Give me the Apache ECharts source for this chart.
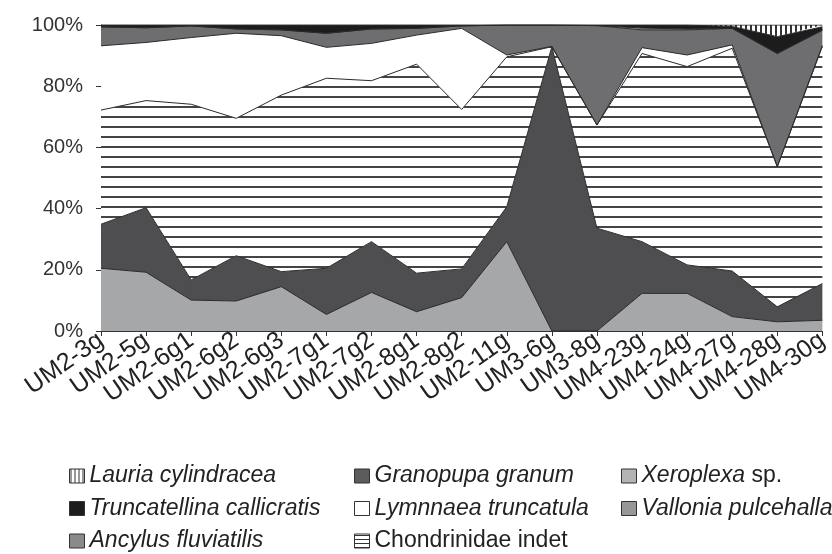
<!DOCTYPE html>
<html>
<head>
<meta charset="utf-8">
<script src="https://cdn.jsdelivr.net/npm/echarts@6/dist/echarts.min.js"></script>
<style>
  body { margin: 0; background: #fff; }
  #chart { width: 832px; height: 554px; }
</style>
</head>
<body>
<div id="chart"></div>
<script>
const categories = ['UM2-3g', 'UM2-5g', 'UM2-6g1', 'UM2-6g2', 'UM2-6g3', 'UM2-7g1', 'UM2-7g2', 'UM2-8g1',
  'UM2-8g2', 'UM2-11g', 'UM3-6g', 'UM3-8g', 'UM4-23g', 'UM4-24g', 'UM4-27g', 'UM4-28g', 'UM4-30g'];

// percentages, stacked bottom to top
const xeroplexa = [20.5, 19.2, 10.1, 9.8, 14.5, 5.4, 12.6, 6.3, 10.9, 29.2, 0, 0, 12.3, 12.3, 4.7, 3.0, 3.5];
const granopupa = [14.4, 21.1, 6.6, 14.8, 4.9, 15.1, 16.6, 12.6, 9.4, 11.4, 92.9, 33.6, 16.9, 9.3, 14.9, 4.9, 12.0];
const chondrinidae = [37.3, 35.0, 57.4, 44.9, 57.7, 62.1, 52.6, 68.3, 52.1, 49.0, 0, 33.7, 61.5, 64.8, 72.8, 45.8, 77.5];
const lymnaea = [21.0, 19.0, 21.8, 27.8, 19.4, 10.1, 12.2, 9.5, 26.5, 0.6, 0.1, 0, 1.9, 3.8, 1.1, 0, 0.3];
const ancylus = [6.2, 4.8, 3.8, 1.4, 1.9, 4.6, 4.7, 2.2, 0.8, 9.8, 7.0, 32.5, 5.8, 8.2, 5.4, 37.0, 5.0];
const vallonia = [0, 0, 0, 0, 0, 0, 0, 0, 0, 0, 0, 0, 0.6, 0.3, 0, 0, 0];
const truncatellina = [0.6, 0.9, 0.3, 1.3, 1.6, 2.7, 1.3, 1.1, 0.3, 0, 0, 0.2, 1.0, 1.3, 0.6, 5.5, 1.1];
const lauria = [0, 0, 0, 0, 0, 0, 0, 0, 0, 0, 0, 0, 0, 0, 0.5, 3.8, 0.6];

const yTicks = [0, 20, 40, 60, 80, 100];

function makePattern(w, h, draw) {
  const c = document.createElement('canvas');
  c.width = w;
  c.height = h;
  const ctx = c.getContext('2d');
  ctx.fillStyle = '#fff';
  ctx.fillRect(0, 0, w, h);
  draw(ctx);
  return { image: c, repeat: 'repeat' };
}

// chart fills
const hLines = makePattern(10, 10, ctx => { ctx.fillStyle = '#444'; ctx.fillRect(0, 6, 10, 2); });
const vLines = makePattern(5, 5, ctx => { ctx.fillStyle = '#333'; ctx.fillRect(0, 0, 2, 5); });
// smaller ones for the legend boxes
const hLinesSmall = makePattern(4, 4, ctx => { ctx.fillStyle = '#333'; ctx.fillRect(0, 1, 4, 1); });
const vLinesSmall = makePattern(4, 4, ctx => { ctx.fillStyle = '#333'; ctx.fillRect(1, 0, 1, 4); });

const layers = [
  { name: 'Xeroplexa sp.', data: xeroplexa, color: '#a6a7a9', legend: '#b4b4b4' },
  { name: 'Granopupa granum', data: granopupa, color: '#4e4e50', legend: '#5c5c5c' },
  { name: 'Chondrinidae indet', data: chondrinidae, color: hLines, legend: hLinesSmall },
  { name: 'Lymnnaea truncatula', data: lymnaea, color: '#ffffff', legend: '#ffffff' },
  { name: 'Ancylus fluviatilis', data: ancylus, color: '#6e6e70', legend: '#8a8a8a' },
  { name: 'Vallonia pulcehalla', data: vallonia, color: '#9a9a9a', legend: '#979797' },
  { name: 'Truncatellina callicratis', data: truncatellina, color: '#1c1c1c', legend: '#1c1c1c' },
  { name: 'Lauria cylindracea', data: lauria, color: vLines, legend: vLinesSmall }
];

const italic = name => {
  if (name === 'Chondrinidae indet') return '{n|' + name + '}';
  if (name === 'Xeroplexa sp.') return '{i|Xeroplexa} {n|sp.}';
  return '{i|' + name + '}';
};

function legendColumn(names, left) {
  return {
    orient: 'vertical',
    left: left,
    top: 459,
    height: 120,
    icon: 'rect',
    itemWidth: 15,
    itemHeight: 14,
    itemGap: 8.5,
    selectedMode: false,
    formatter: italic,
    textStyle: {
      color: '#222',
      fontSize: 23,
      lineHeight: 24,
      rich: {
        i: { fontStyle: 'italic', fontSize: 23, color: '#222', fontFamily: 'Liberation Sans' },
        n: { fontSize: 23, color: '#222', fontFamily: 'Liberation Sans' }
      }
    },
    data: names.map(n => {
      const l = layers.find(x => x.name === n);
      return { name: n, itemStyle: { color: l.legend, borderColor: '#333', borderWidth: 1 } };
    })
  };
}

const chart = echarts.init(document.getElementById('chart'));
chart.setOption({
  animation: false,
  textStyle: { fontFamily: 'Liberation Sans' },
  grid: { left: 101, top: 25, width: 738, height: 306 },
  legend: [
    legendColumn(['Lauria cylindracea', 'Truncatellina callicratis', 'Ancylus fluviatilis'], 64),
    legendColumn(['Granopupa granum', 'Lymnnaea truncatula', 'Chondrinidae indet'], 349),
    legendColumn(['Xeroplexa sp.', 'Vallonia pulcehalla'], 616)
  ],
  xAxis: {
    type: 'category',
    data: categories,
    boundaryGap: false,
    axisLine: { lineStyle: { color: '#333', width: 1 } },
    axisTick: { show: true, length: 5, lineStyle: { color: '#333' } },
    axisLabel: { interval: 0, rotate: 35, fontSize: 25, color: '#222', margin: 7 }
  },
  yAxis: {
    type: 'value',
    min: 0,
    max: 100,
    interval: 20,
    splitLine: { show: false },
    axisLine: { show: true, lineStyle: { color: '#333', width: 1 } },
    axisTick: { show: true, length: 5, lineStyle: { color: '#333' } },
    axisLabel: {
      fontSize: 20,
      color: '#333',
      margin: 18,
      formatter: v => (yTicks.includes(v) ? v + '%' : '')
    }
  },
  series: layers.map(l => ({
    name: l.name,
    type: 'line',
    stack: 'total',
    data: l.data,
    symbol: 'none',
    itemStyle: { color: typeof l.color === 'string' ? l.color : '#fff' },
    lineStyle: { color: '#2a2a2a', width: 1 },
    areaStyle: { color: l.color, opacity: 1 }
  }))
});
</script>
</body>
</html>
